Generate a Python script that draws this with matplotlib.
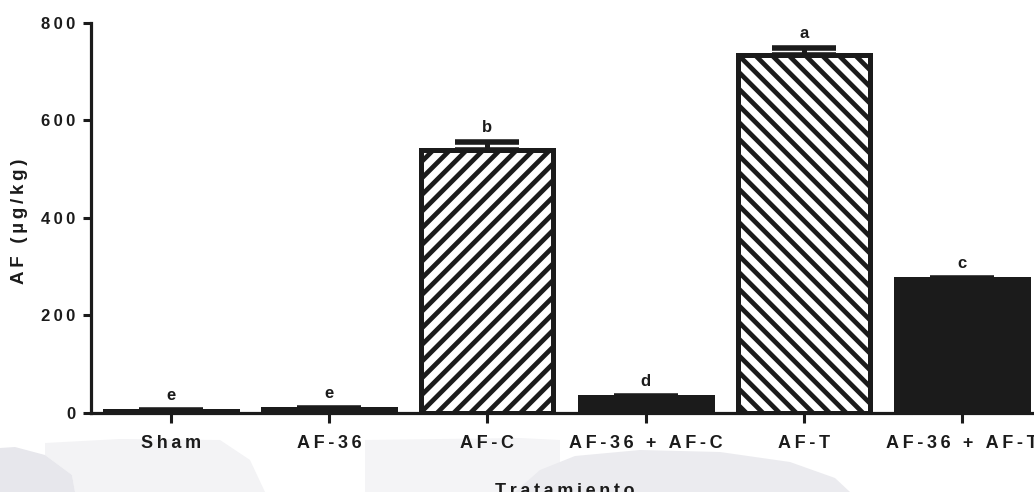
import matplotlib
matplotlib.use("Agg")
import matplotlib.pyplot as plt
from matplotlib.patches import Polygon

# datos: media y error estandar de AF por tratamiento
tratamientos = ["Sham", "AF-36", "AF-C", "AF-36 + AF-C", "AF-T", "AF-36 + AF-T"]
af_media = [5, 8, 540, 32, 733, 275]
af_ee = [1.5, 1.5, 15, 2, 16, 2]
letras = ["e", "e", "b", "d", "a", "c"]
rayado = ["", "", "//", "", "\\\\", ""]
relleno = ["#1b1b1b", "#1b1b1b", "white", "#1b1b1b", "white", "#1b1b1b"]
y_ticks = [0, 200, 400, 600, 800]

NEGRO = "#1b1b1b"
FAM = ["Liberation Sans", "DejaVu Sans"]
plt.rcParams["font.family"] = FAM
plt.rcParams["font.weight"] = "bold"
plt.rcParams["hatch.linewidth"] = 3.4
plt.rcParams["hatch.color"] = NEGRO


def espaciar(s):
    # letras separadas con espacio fino
    return "\u2009".join(s)


W, H = 1034, 492
fig = plt.figure(figsize=(W / 100, H / 100), dpi=100)

# marca de agua gris claro al fondo
def mancha(pts, color):
    fig.patches.append(Polygon([(x / W, 1 - y / H) for x, y in pts], closed=True,
                               transform=fig.transFigure, facecolor=color,
                               edgecolor="none", zorder=-5))

mancha([(45, 443), (120, 439), (220, 440), (250, 460), (265, 492), (75, 492), (72, 475), (45, 455)], "#f3f3f5")
mancha([(0, 448), (15, 447), (45, 455), (72, 475), (75, 492), (0, 492)], "#e7e7ec")
mancha([(365, 440), (520, 438), (560, 440), (560, 492), (365, 492)], "#f4f4f6")
mancha([(515, 492), (540, 470), (575, 456), (640, 450), (720, 452), (790, 462), (835, 478), (850, 492)], "#ebebef")

ax = fig.add_axes([91 / W, 1 - 413 / H, (1042 - 91) / W, (413 - 22.7) / H])
ax.patch.set_alpha(0)
ax.set_zorder(2)

x = list(range(len(tratamientos)))
ax.bar(x, af_media, width=0.835, color=relleno, edgecolor=NEGRO,
       linewidth=3.6, hatch=rayado, zorder=2)

# barras de error solo hacia arriba
ax.errorbar(x, af_media, yerr=[[0] * len(af_ee), af_ee], fmt="none",
            ecolor=NEGRO, elinewidth=3.6, capsize=23, capthick=4, zorder=3)

for xi, m, e, l in zip(x, af_media, af_ee, letras):
    ax.annotate(l, (xi, m + e), xytext=(0, 5), textcoords="offset points",
                ha="center", va="bottom", fontsize=12, fontweight="bold",
                color=NEGRO, family=FAM)

ax.set_xlim(-0.505, 5.505)
ax.set_ylim(0, 800)
ax.set_yticks(y_ticks)
ax.set_yticklabels([espaciar(str(v)) for v in y_ticks], fontsize=12,
                   fontweight="bold", color=NEGRO, family=FAM)
ax.set_xticks(x)
ax.set_xticklabels([espaciar(t) for t in tratamientos], fontsize=13,
                   fontweight="bold", color=NEGRO, family=FAM)

for s in ["top", "right"]:
    ax.spines[s].set_visible(False)
for s in ["left", "bottom"]:
    ax.spines[s].set_linewidth(2.3)
    ax.spines[s].set_color(NEGRO)
ax.tick_params(axis="y", length=6, width=2.2, color=NEGRO, pad=5)
ax.tick_params(axis="x", length=7, width=2.2, color=NEGRO, pad=9)

fig.text(20 / W, 1 - 221 / H, espaciar("AF (µg/kg)"), rotation=90,
         ha="center", va="center", fontsize=13.5, fontweight="bold",
         color=NEGRO, family=FAM)
fig.text(565 / W, 1 - 496 / H, espaciar("Tratamiento"), ha="center",
         va="baseline", fontsize=13, fontweight="bold", color=NEGRO, family=FAM)

fig.savefig("out.png", dpi=100)
